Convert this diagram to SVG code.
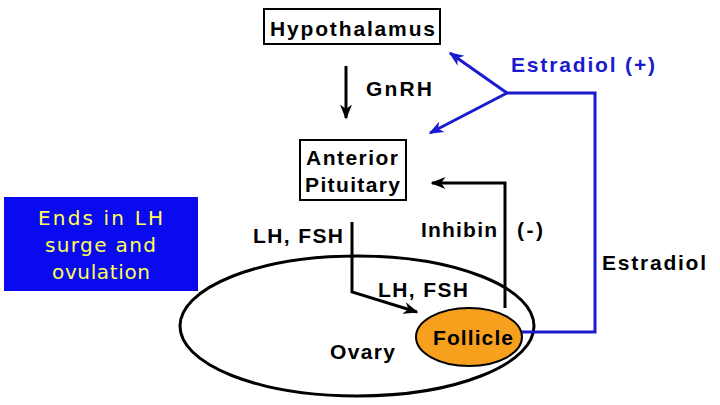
<svg xmlns="http://www.w3.org/2000/svg" width="720" height="405" viewBox="0 0 720 405">
<style>
.t{font-family:"Liberation Sans",Arial,sans-serif;font-weight:bold;font-size:21px;fill:#000}
.b{fill:#1a1ad0}
.k{stroke:#000;stroke-width:3;fill:none}
.bl{stroke:#1a1ad0;stroke-width:3;fill:none}
</style>
<defs>
<marker id="ak" viewBox="0 0 10 10" refX="9" refY="5" markerWidth="5" markerHeight="5" orient="auto" markerUnits="strokeWidth"><path d="M0,1 L10,5 L0,9 L3,5 z" fill="#000"/></marker>
<marker id="ab" viewBox="0 0 10 10" refX="9" refY="5" markerWidth="5" markerHeight="5" orient="auto" markerUnits="strokeWidth"><path d="M0,1 L10,5 L0,9 L3,5 z" fill="#1a1ad0"/></marker>
</defs>
<rect width="720" height="405" fill="#fff"/>
<g id="ovary"><ellipse cx="357" cy="326" rx="177" ry="70" class="k"/><text class="t" x="330" y="359" textLength="65" lengthAdjust="spacing">Ovary</text></g>
<g id="hypothalamus"><rect x="264" y="9" width="176" height="35" fill="#fff" stroke="#000" stroke-width="2"/><text class="t" x="270" y="36" textLength="165" lengthAdjust="spacing">Hypothalamus</text></g>
<g id="pituitary"><rect x="300" y="140" width="106" height="60" fill="#fff" stroke="#000" stroke-width="2"/><text class="t" x="306" y="165" textLength="92" lengthAdjust="spacing">Anterior</text><text class="t" x="305" y="192" textLength="95" lengthAdjust="spacing">Pituitary</text></g>
<g id="note"><rect x="4" y="197" width="194" height="94" fill="#0a0af0"/><g font-family="'Comic Sans MS','DejaVu Sans',sans-serif" font-size="20" fill="#ffff55"><text x="38" y="225" textLength="125" lengthAdjust="spacing">Ends in LH</text><text x="45" y="252" textLength="111" lengthAdjust="spacing">surge and</text><text x="52" y="279" textLength="98" lengthAdjust="spacing">ovulation</text></g></g>
<g id="connectors">
<line x1="346" y1="66" x2="346" y2="118" class="k" marker-end="url(#ak)"/>
<polyline points="352,222 352,292 417,312" class="k" marker-end="url(#ak)"/>
<polyline points="505,308 505,183 432,183" class="k" marker-end="url(#ak)"/>
<line x1="507" y1="93" x2="450" y2="53" class="bl" marker-end="url(#ab)"/>
<line x1="507" y1="93" x2="430" y2="133" class="bl" marker-end="url(#ab)"/>
<polyline points="507,93 595,93 595,332 520,332" class="bl"/>
</g>
<g id="follicle"><ellipse cx="469" cy="337" rx="53" ry="29" fill="#f7a01e" stroke="#000" stroke-width="2"/><text class="t" x="433" y="345" textLength="80" lengthAdjust="spacing">Follicle</text></g>
<g id="labels">
<text class="t" x="366" y="96" textLength="66" lengthAdjust="spacing">GnRH</text>
<text class="t b" x="511" y="72" textLength="144" lengthAdjust="spacing">Estradiol  (+)</text>
<text class="t" x="602" y="270" textLength="104" lengthAdjust="spacing">Estradiol</text>
<text class="t" x="421" y="237" textLength="76" lengthAdjust="spacing">Inhibin</text>
<text class="t" x="517" y="237" textLength="26" lengthAdjust="spacing">(-)</text>
<text class="t" x="253" y="243" textLength="90" lengthAdjust="spacing">LH, FSH</text>
<text class="t" x="378" y="297" textLength="90" lengthAdjust="spacing">LH, FSH</text>
</g>
</svg>
